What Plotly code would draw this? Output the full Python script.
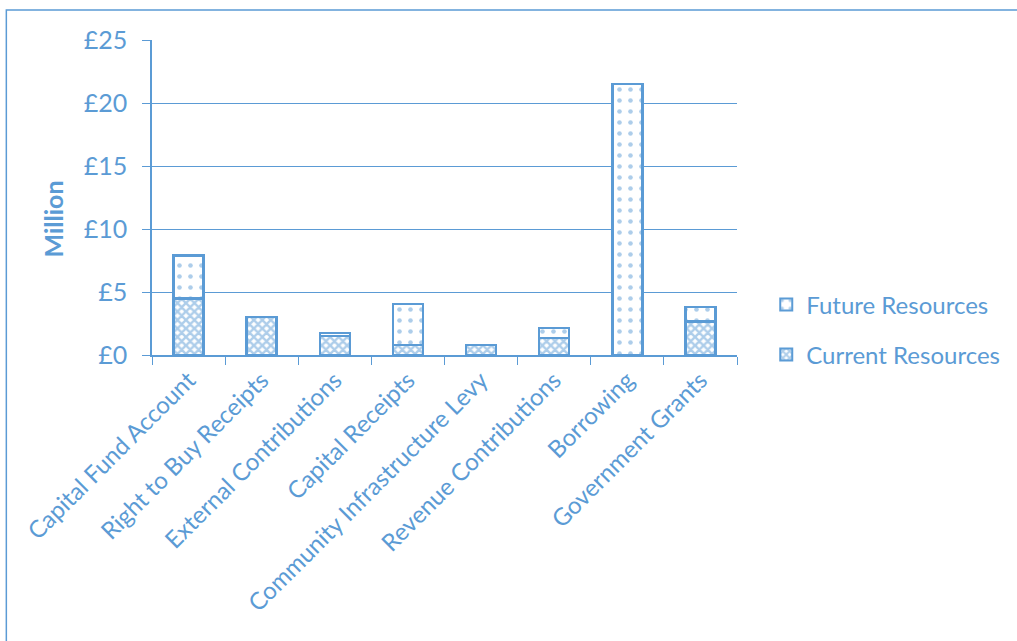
import plotly.graph_objects as go

categories = ["Capital Fund Account", "Right to Buy Receipts", "External Contributions",
              "Capital Receipts", "Community Infrastructure Levy", "Revenue Contributions",
              "Borrowing", "Government Grants"]
current_resources = [4.5, 3.0, 1.5, 0.8, 0.8, 1.35, 0.0, 2.65]
future_resources = [3.4, 0.0, 0.25, 3.25, 0.0, 0.8, 21.5, 1.15]
y_ticks = [0, 5, 10, 15, 20, 25]
y_tick_labels = ["£0", "£5", "£10", "£15", "£20", "£25"]

BLUE = "#5B9BD5"
FONT = "Lato, Carlito, Liberation Sans, sans-serif"

fig = go.Figure()
fig.add_trace(go.Bar(
    x=categories, y=current_resources, name="Current Resources",
    legendgroup="b", legendrank=2,
    marker=dict(color="white", line=dict(color=BLUE, width=2.5),
                pattern=dict(shape="x", fgcolor=BLUE, bgcolor="white", size=6, solidity=0.65)),
))
fig.add_trace(go.Bar(
    x=categories, y=future_resources, name="Future Resources",
    legendgroup="a", legendrank=1,
    marker=dict(color="white", line=dict(color=BLUE, width=2.5),
                pattern=dict(shape=".", fgcolor=BLUE, bgcolor="white", size=11, solidity=0.14)),
))

fig.update_layout(
    barmode="stack",
    bargap=0.59,
    width=1017, height=641,
    margin=dict(l=152, r=277, t=40, b=286),
    paper_bgcolor="white", plot_bgcolor="white",
    font=dict(family=FONT, color=BLUE, size=24),
    showlegend=True,
    legend=dict(x=1.05, y=0.08, xanchor="left", yanchor="middle",
                traceorder="grouped", font=dict(size=24, color=BLUE),
                tracegroupgap=16, itemsizing="constant"),
    xaxis=dict(type="category", tickangle=-45, tickson="boundaries",
               ticks="outside", ticklen=8, tickcolor=BLUE,
               showline=True, linecolor=BLUE, linewidth=1.5,
               tickfont=dict(size=24, color=BLUE), showgrid=False),
    yaxis=dict(range=[0, 25], tickvals=y_ticks, ticktext=y_tick_labels,
               ticks="outside", ticklen=8, tickcolor=BLUE,
               showline=True, linecolor=BLUE, linewidth=1.5,
               showgrid=True, gridcolor=BLUE, gridwidth=1,
               tickfont=dict(size=25, color=BLUE), ticklabelstandoff=10,
               zeroline=False),
    annotations=[dict(text="<b>Million</b>", xref="paper", yref="paper",
                      x=-0.17, y=0.432, textangle=-90, showarrow=False,
                      font=dict(size=25, color=BLUE), xanchor="center", yanchor="middle")],
    shapes=[dict(type="rect", xref="paper", yref="paper",
                 x0=-0.249, x1=1.5, y0=-0.95, y1=1.095,
                 line=dict(color=BLUE, width=1.5), fillcolor="rgba(0,0,0,0)", layer="below")],
)

fig.write_html("out.html", config={"displayModeBar": False},
               post_script="document.body.style.margin='0';document.body.style.overflow='hidden';")
